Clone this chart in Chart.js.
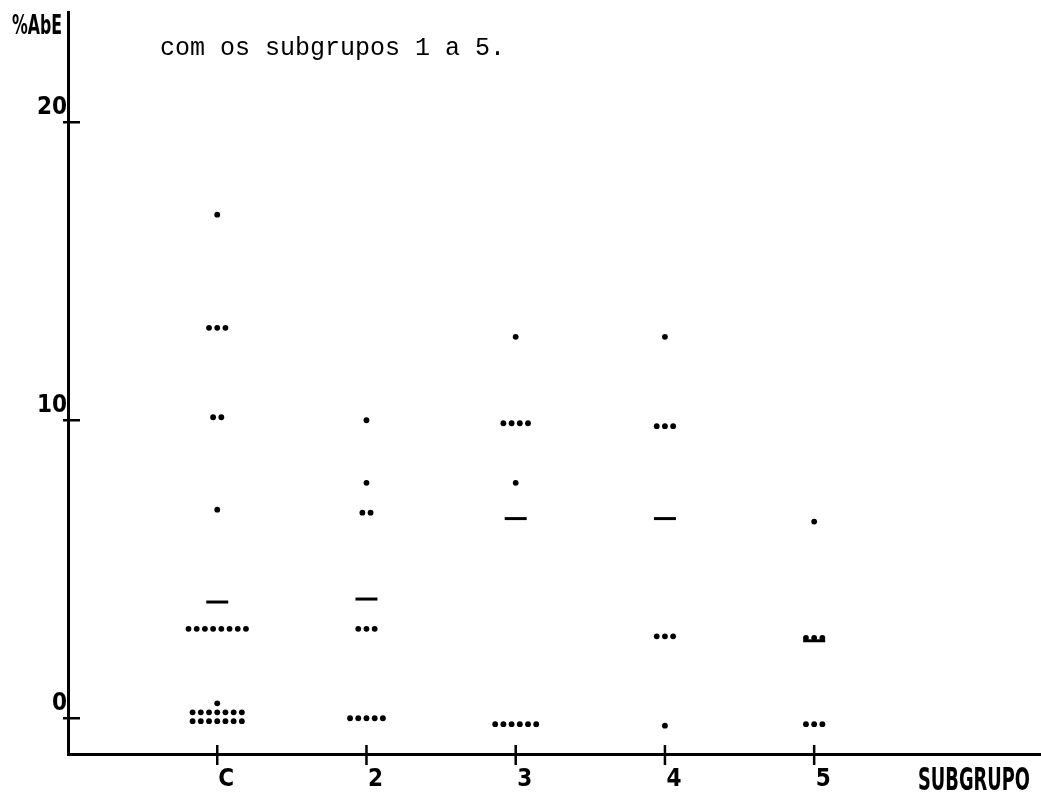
<!DOCTYPE html>
<html>
<head>
<meta charset="utf-8">
<title>%AbE por subgrupo</title>
<script src="https://cdn.jsdelivr.net/npm/chart.js@4.4.1/dist/chart.umd.min.js"></script>
<style>
  html, body { margin: 0; padding: 0; background: #fff; overflow: hidden; }
  #wrap { width: 1041px; height: 794px; position: relative; }
</style>
</head>
<body>
<div id="wrap"><canvas id="dotChart"></canvas></div>
<script>
// categories on the x axis
const categories = ['C', '2', '3', '4', '5'];

// %AbE values per subgroup, one entry per dot (repeats are drawn side by side)
const groupC = [16.9, 13.1, 13.1, 13.1, 10.1, 10.1, 7.0,
    3.0, 3.0, 3.0, 3.0, 3.0, 3.0, 3.0, 3.0, 0.5,
    0.2, 0.2, 0.2, 0.2, 0.2, 0.2, 0.2,
    -0.1, -0.1, -0.1, -0.1, -0.1, -0.1, -0.1];
const group2 = [10.0, 7.9, 6.9, 6.9, 3.0, 3.0, 3.0, 0, 0, 0, 0, 0];
const group3 = [12.8, 9.9, 9.9, 9.9, 9.9, 7.9, -0.2, -0.2, -0.2, -0.2, -0.2, -0.2];
const group4 = [12.8, 9.8, 9.8, 9.8, 2.75, 2.75, 2.75, -0.25];
const group5 = [6.6, 2.7, 2.7, 2.7, -0.2, -0.2, -0.2];

// horizontal marks (dash) per subgroup
const marks = [3.9, 4.0, 6.7, 6.7, 2.6];

// tick labels
const yTicks = [0, 10, 20];
const xTicks = [1, 2, 3, 4, 5];

const groups = [groupC, group2, group3, group4, group5];
const DOT_STEP = 0.055; // spacing between side-by-side dots, in category units

function dotPoints(values, cat) {
    const counts = new Map();
    values.forEach(v => counts.set(v, (counts.get(v) || 0) + 1));
    const pts = [];
    counts.forEach((n, v) => {
        for (let k = 0; k < n; k++) {
            pts.push({ x: cat + (k - (n - 1) / 2) * DOT_STEP, y: v });
        }
    });
    return pts;
}

const dots = [];
groups.forEach((vals, i) => dots.push(...dotPoints(vals, i + 1)));
const dashes = marks.map((v, i) => ({ x: i + 1, y: v }));

const narrowFamily = "'DejaVu Sans Condensed', 'Liberation Sans Narrow', sans-serif";
const labelFont = { family: narrowFamily, size: 24, weight: 'bold' };

// draw text squeezed to a given width, like the plotter lettering
function narrowText(ctx, text, x, y, width, size) {
    ctx.save();
    ctx.font = 'bold ' + size + 'px ' + narrowFamily;
    const w = ctx.measureText(text).width;
    ctx.translate(x, y);
    ctx.scale(width / w, 1);
    ctx.textAlign = 'left';
    ctx.textBaseline = 'alphabetic';
    ctx.fillText(text, 0, 0);
    ctx.restore();
}

// crossing tick marks and the loose texts of the page
const pagePlugin = {
    id: 'pagePlugin',
    afterDraw(chart) {
        const { ctx, scales: { x, y }, chartArea } = chart;
        ctx.save();
        ctx.strokeStyle = '#000';
        ctx.lineWidth = 2.5;
        yTicks.forEach(v => {
            const py = y.getPixelForValue(v);
            ctx.beginPath();
            ctx.moveTo(chartArea.left - 5, py);
            ctx.lineTo(chartArea.left + 12, py);
            ctx.stroke();
        });
        xTicks.forEach(v => {
            const px = x.getPixelForValue(v);
            ctx.beginPath();
            ctx.moveTo(px, chartArea.bottom - 9);
            ctx.lineTo(px, chartArea.bottom + 11);
            ctx.stroke();
        });

        ctx.fillStyle = '#000';
        narrowText(ctx, '%AbE', 12, 34, 50, 27);
        narrowText(ctx, 'SUBGRUPO', 918, 790, 112, 32);

        ctx.textAlign = 'left';
        ctx.textBaseline = 'alphabetic';
        ctx.font = "25px 'Liberation Mono', 'DejaVu Sans Mono', monospace";
        ctx.fillText('com os subgrupos 1 a 5.', 160, 55);
        ctx.restore();
    }
};

new Chart(document.getElementById('dotChart'), {
    type: 'scatter',
    data: {
        datasets: [{
            label: 'valores',
            data: dots,
            backgroundColor: '#000',
            borderColor: '#000',
            pointRadius: 2.9,
            pointBorderWidth: 0
        },
        {
            label: 'marca',
            data: dashes,
            pointStyle: 'line',
            pointRadius: 11,
            borderColor: '#000',
            pointBorderWidth: 3
        }]
    },
    options: {
        responsive: true,
        maintainAspectRatio: false,
        animation: false,
        layout: { autoPadding: false, padding: { top: 12, left: 0, right: 0, bottom: 0 } },
        plugins: {
            legend: { display: false },
            tooltip: { enabled: false }
        },
        scales: {
            x: {
                type: 'linear',
                min: 0,
                max: 6.52,
                afterFit: scale => {
                    scale.height = 40;
                    scale.paddingLeft = 0;
                    scale.paddingRight = 0;
                },
                afterBuildTicks: scale => { scale.ticks = xTicks.map(v => ({ value: v })); },
                border: { display: true, color: '#000', width: 3 },
                grid: { display: false, drawTicks: false },
                ticks: {
                    color: '#000',
                    font: labelFont,
                    padding: 11,
                    labelOffset: 9,
                    maxRotation: 0,
                    callback: v => categories[v - 1]
                }
            },
            y: {
                min: -1.2,
                max: 23.7,
                afterFit: scale => {
                    scale.width = 68;
                    scale.paddingTop = 0;
                    scale.paddingBottom = 0;
                },
                afterBuildTicks: scale => { scale.ticks = yTicks.map(v => ({ value: v })); },
                border: { display: true, color: '#000', width: 3 },
                grid: { display: false, drawTicks: false },
                ticks: {
                    color: '#000',
                    font: labelFont,
                    padding: 1,
                    labelOffset: -14
                }
            }
        }
    },
    plugins: [pagePlugin]
});
</script>
</body>
</html>
